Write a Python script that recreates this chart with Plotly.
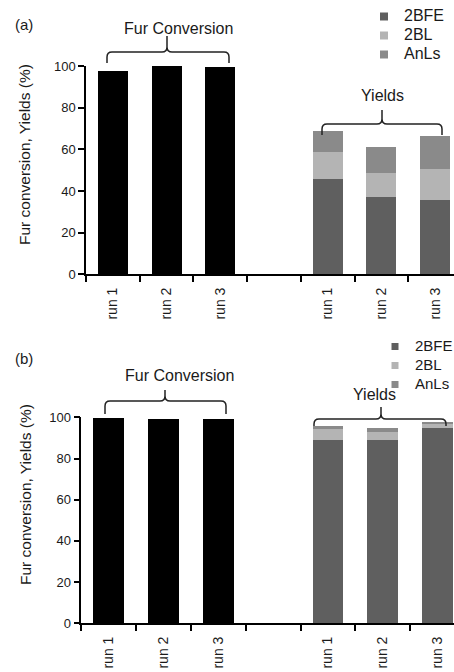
import plotly.graph_objects as go

# ---------------- data ----------------
runs = ["run 1", "run 2", "run 3"]
series = ["2BFE", "2BL", "AnLs"]
series_colors = ["#5f5f5f", "#b4b4b4", "#8a8a8a"]

fur_a = [97.6, 99.8, 99.5]
bfe_a = [45.7, 37.3, 35.7]
bl_a = [13.2, 11.5, 14.9]
anls_a = [10.0, 12.5, 15.6]

fur_b = [99.5, 99.0, 99.0]
bfe_b = [89.0, 89.0, 94.8]
bl_b = [5.3, 3.9, 2.0]
anls_b = [1.5, 1.9, 0.4]

y_ticks = [0, 20, 40, 60, 80, 100]
group_labels = ["Fur Conversion", "Yields"]
panel_labels = ["(a)", "(b)"]
y_title = "Fur conversion, Yields (%)"

# ---------------- layout helpers ----------------
W, H = 454, 672
FONT = "Liberation Sans, Arial, sans-serif"
TXT = "#1a1a1a"


def py(p):  # pixel y -> paper y
    return 1 - p / H


n = len(runs)
fur_x = list(range(n))
yld_x = [i + n + 1 for i in range(n)]
tick_x = fur_x + yld_x
tick_text = runs + runs
bounds = [i - 0.5 for i in range(2 * n + 2)]

fig = go.Figure()

panels = [
    dict(fur=fur_a, parts=[bfe_a, bl_a, anls_a], xa="x", ya="y", leg="legend", fs=16, ms=8),
    dict(fur=fur_b, parts=[bfe_b, bl_b, anls_b], xa="x2", ya="y2", leg="legend2", fs=15, ms=7),
]

for p in panels:
    fig.add_trace(go.Bar(x=fur_x, y=p["fur"], marker_color="black", width=0.56,
                         marker_line_width=0, showlegend=False,
                         xaxis=p["xa"], yaxis=p["ya"]))
    for name, col, vals in zip(series, series_colors, p["parts"]):
        fig.add_trace(go.Bar(x=yld_x, y=vals, name=name, marker_color=col, width=0.56,
                             marker_line_width=0, showlegend=False,
                             xaxis=p["xa"], yaxis=p["ya"]))
    for name, col in zip(series, series_colors):
        fig.add_trace(go.Scatter(x=[None], y=[None], mode="markers",
                                 name=f"<span style='font-size:{p['fs']}px'>{name}</span>",
                                 marker=dict(symbol="square", size=p["ms"], color=col),
                                 legend=p["leg"], xaxis=p["xa"], yaxis=p["ya"]))

# axis geometry (pixels): left edge, px per category, y of 0 and 100
geo = [
    dict(left=86.0, unit=53.7, y0=274.3, y100=66.0),
    dict(left=81.3, unit=54.8, y0=623.3, y100=417.3),
]

def xaxis_cfg(g):
    return dict(domain=[g["left"] / W, 1], range=[-0.5, -0.5 + (W - g["left"]) / g["unit"]],
                showline=True, linecolor="black", linewidth=1.5,
                tickmode="array", tickvals=tick_x, ticktext=tick_text, tickangle=-90,
                ticks="outside", ticklen=6, tickcolor="rgba(0,0,0,0)",
                minor=dict(tickmode="array", tickvals=bounds, ticks="outside",
                           ticklen=6, tickwidth=1.5, tickcolor="black"),
                showgrid=False, zeroline=False,
                tickfont=dict(family=FONT, size=14, color=TXT))

def yaxis_cfg(g):
    return dict(domain=[py(g["y0"]), py(g["y100"])], range=[0, 100],
                showline=True, linecolor="black", linewidth=1.5,
                tickmode="array", tickvals=y_ticks, ticks="outside", ticklen=6,
                tickwidth=1.5, tickcolor="black", showgrid=False, zeroline=False,
                tickfont=dict(family=FONT, size=13, color=TXT))

fig.update_layout(
    width=W, height=H, margin=dict(l=0, r=0, t=0, b=0, autoexpand=False),
    paper_bgcolor="white", plot_bgcolor="white", barmode="stack",
    xaxis=dict(anchor="y", **xaxis_cfg(geo[0])),
    yaxis=dict(anchor="x", **yaxis_cfg(geo[0])),
    xaxis2=dict(anchor="y2", **xaxis_cfg(geo[1])),
    yaxis2=dict(anchor="x2", **yaxis_cfg(geo[1])),
    legend=dict(x=364 / W, y=py(2), xanchor="left", yanchor="top", traceorder="normal",
                bgcolor="rgba(0,0,0,0)", font=dict(family=FONT, size=12, color=TXT),
                itemwidth=30, tracegroupgap=0),
    legend2=dict(x=375 / W, y=py(332), xanchor="left", yanchor="top", traceorder="normal",
                 bgcolor="rgba(0,0,0,0)", font=dict(family=FONT, size=12, color=TXT),
                 itemwidth=30, tracegroupgap=0),
    showlegend=True,
)

# ---------------- braces and labels ----------------
def brace(xref, g, px0, px1, pxc, yh, yend, ytip):
    def dx(p):
        return (p - g["left"]) / g["unit"] - 0.5
    r = 5.0
    rx = r / g["unit"]
    x0, x1, xc = dx(px0), dx(px1), dx(pxc)
    left = (f"M{x0},{py(yend)} L{x0},{py(yh + r)} Q{x0},{py(yh)} {x0 + rx},{py(yh)} "
            f"L{xc - rx},{py(yh)} Q{xc},{py(yh)} {xc},{py(yh - r)} L{xc},{py(ytip)} ")
    right = (f"M{xc},{py(ytip)} L{xc},{py(yh - r)} Q{xc},{py(yh)} {xc + rx},{py(yh)} "
             f"L{x1 - rx},{py(yh)} Q{x1},{py(yh)} {x1},{py(yh + r)} L{x1},{py(yend)}")
    fig.add_shape(type="path", path=left + right, xref=xref, yref="paper",
                  line=dict(color="#222222", width=1.5))

def label(xref, g, pxc, pyc, text, size=16):
    fig.add_annotation(x=(pxc - g["left"]) / g["unit"] - 0.5, y=py(pyc), xref=xref, yref="paper",
                       text=text, showarrow=False, xanchor="center", yanchor="middle",
                       font=dict(family=FONT, size=size, color=TXT))

# panel (a)
brace("x", geo[0], 107, 229, 167, 52, 63, 36)
brace("x", geo[0], 322, 442, 382, 124, 135, 110)
label("x", geo[0], 178, 29, group_labels[0])
label("x", geo[0], 382, 96, group_labels[1])
# panel (b)
brace("x2", geo[1], 105, 226, 165, 401, 414, 390)
brace("x2", geo[1], 314, 446, 381, 419, 426, 407)
label("x2", geo[1], 179, 375, group_labels[0])
label("x2", geo[1], 374, 394, group_labels[1])

for txt, yc in zip(panel_labels, [25, 358]):
    fig.add_annotation(x=13 / W, y=py(yc), xref="paper", yref="paper", text=txt,
                       showarrow=False, xanchor="left", yanchor="middle",
                       font=dict(family=FONT, size=15, color=TXT))

for yc in [155, 495]:
    fig.add_annotation(x=25 / W, y=py(yc), xref="paper", yref="paper", text=y_title,
                       textangle=-90, showarrow=False, xanchor="center", yanchor="middle",
                       font=dict(family=FONT, size=15.5, color=TXT))

fig.write_html("out.html")
